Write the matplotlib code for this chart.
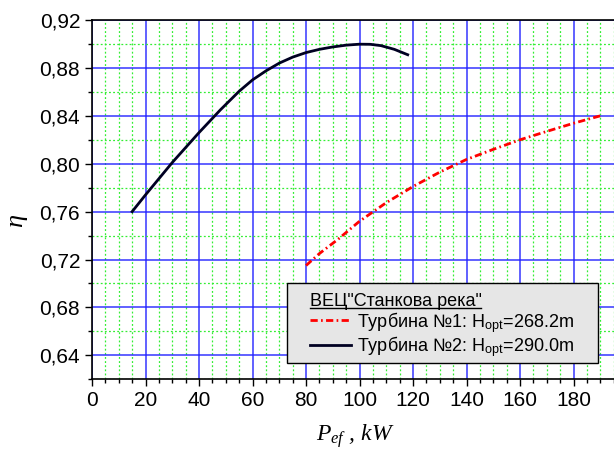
import matplotlib
matplotlib.use("Agg")
import matplotlib.pyplot as plt
from matplotlib.ticker import MultipleLocator, FuncFormatter
from matplotlib.lines import Line2D
from matplotlib.patches import Rectangle

plt.rcParams['font.family'] = 'Liberation Sans'
plt.rcParams['mathtext.fontset'] = 'custom'
plt.rcParams['mathtext.rm'] = 'Liberation Sans'
plt.rcParams['mathtext.it'] = 'Liberation Serif:italic'

# Turbine 1 (red dash-dot)
p1 = [80, 85, 92, 100, 110, 120, 130, 140, 150, 160, 170, 180, 190]
eta1 = [0.715, 0.725, 0.737, 0.752, 0.7675, 0.781, 0.793, 0.8036, 0.812, 0.820, 0.827, 0.8338, 0.840]
# Turbine 2 (dark solid)
p2 = [15, 20, 30, 40, 48, 55, 60, 65, 70, 75, 80, 85, 90, 95, 100, 104, 108, 113, 118]
eta2 = [0.760, 0.774, 0.801, 0.826, 0.845, 0.8605, 0.870, 0.8775, 0.8840, 0.8890, 0.8928, 0.8955, 0.8975,
        0.8990, 0.8998, 0.8997, 0.8986, 0.8955, 0.891]

label_title = 'ВЕЦ"Станкова река"'
label1 = r'Турбина №1: H$_{\mathrm{opt}}$=268.2m'
label2 = r'Турбина №2: H$_{\mathrm{opt}}$=290.0m'

fig = plt.figure(figsize=(6.14, 4.55), dpi=100)
ax = fig.add_axes([92/614, 1-379.3/455, 1-92/614, (379.3-20)/455])

ax.xaxis.set_major_locator(MultipleLocator(20))
ax.xaxis.set_minor_locator(MultipleLocator(5))
ax.yaxis.set_major_locator(MultipleLocator(0.04))
ax.yaxis.set_minor_locator(MultipleLocator(0.02))
ax.grid(which='minor', color='#33ee33', linestyle=(0, (1.5, 1.8)), linewidth=0.9)
ax.grid(which='major', color='#2020ff', linestyle='-', linewidth=1.1, alpha=0.9)
ax.set_axisbelow(True)

ax.plot(p1, eta1, color='red', linewidth=2, linestyle=(0, (2.6, 1.2, 0.6, 1.2)), label=label1)
ax.plot(p2, eta2, color='#000022', linewidth=2, label=label2)

ax.set_xlim(0, 195.1)
ax.set_ylim(0.62, 0.92)
ax.yaxis.set_major_formatter(FuncFormatter(lambda v, pos: f'{v:.2f}'.replace('.', ',')))
ax.tick_params(which='major', direction='out', length=5, width=1, labelsize=15, colors='black')
ax.tick_params(which='minor', direction='out', length=3, width=1)
ax.spines['right'].set_visible(False)
for s in ['left', 'bottom', 'top']:
    ax.spines[s].set_linewidth(1.2)

ax.set_ylabel('η', family='Liberation Serif', style='italic', fontsize=19)
ax.yaxis.set_label_coords(-0.125, 0.443)
ax.set_xlabel(r'$P_{ef}$ , kW', family='Liberation Serif', style='italic', fontsize=17)
ax.xaxis.set_label_coords(0.504, -0.12)

# legend box
box = Rectangle((287/614, 1-363/455), (598-287)/614, 80/455, transform=fig.transFigure,
                facecolor='#e6e6e6', edgecolor='black', linewidth=1, zorder=4, clip_on=False)
ax.add_patch(box)

leg = ax.legend(loc='upper left', bbox_to_anchor=(306/614, 1-289/455), bbox_transform=fig.transFigure,
                borderaxespad=0, title=label_title, alignment='left', fontsize=13, title_fontsize=13,
                frameon=False, handlelength=2.3, handletextpad=0.33, labelspacing=0.0, borderpad=0.2)
leg.set_zorder(5)

fig.canvas.draw()
bb = leg.get_title().get_window_extent().transformed(fig.transFigure.inverted())
fig.add_artist(Line2D([bb.x0, bb.x1], [bb.y0 + 0.004, bb.y0 + 0.004], color='black', linewidth=1,
                      transform=fig.transFigure, zorder=6))

fig.savefig('out.png', dpi=100)
